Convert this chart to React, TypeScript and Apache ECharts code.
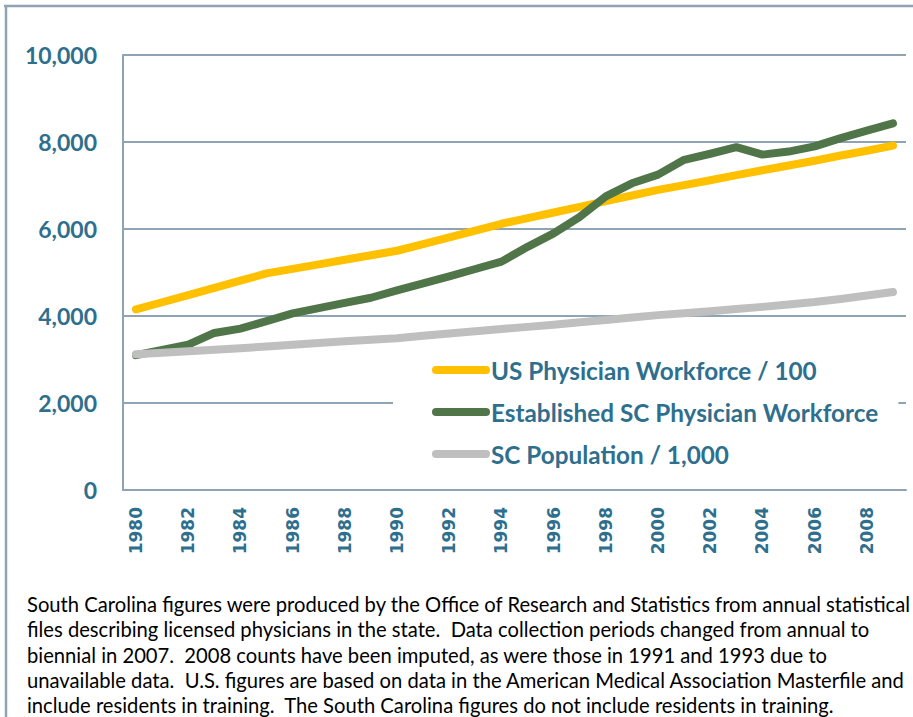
import React, { useEffect, useRef } from "react";
import * as echarts from "echarts";

const years: string[] = [
  "1980", "1981", "1982", "1983", "1984", "1985", "1986", "1987", "1988", "1989",
  "1990", "1991", "1992", "1993", "1994", "1995", "1996", "1997", "1998", "1999",
  "2000", "2001", "2002", "2003", "2004", "2005", "2006", "2007", "2008", "2009",
];

const usPhysicians: number[] = [
  4150, 4316, 4482, 4648, 4814, 4980, 5084, 5188, 5292, 5396,
  5500, 5650, 5810, 5960, 6120, 6250, 6380, 6510, 6640, 6770,
  6900, 7010, 7120, 7240, 7350, 7460, 7570, 7690, 7800, 7917,
];

const scPhysicians: number[] = [
  3100, 3220, 3340, 3610, 3710, 3880, 4060, 4180, 4300, 4420,
  4590, 4750, 4910, 5080, 5250, 5590, 5900, 6280, 6750, 7050,
  7250, 7590, 7730, 7880, 7710, 7780, 7900, 8090, 8260, 8430,
];

const scPopulation: number[] = [
  3120, 3155, 3190, 3225, 3260, 3300, 3340, 3380, 3420, 3455,
  3490, 3545, 3600, 3650, 3700, 3750, 3800, 3855, 3910, 3965,
  4020, 4065, 4110, 4160, 4210, 4265, 4320, 4390, 4470, 4550,
];

const seriesNames: string[] = [
  "US Physician Workforce / 100",
  "Established SC Physician Workforce",
  "SC Population / 1,000",
];

const footnoteLines: string[] = [
  "South Carolina figures were produced by the Office of Research and Statistics from annual statistical",
  "files describing licensed physicians in the state.  Data collection periods changed from annual to",
  "biennial in 2007.  2008 counts have been imputed, as were those in 1991 and 1993 due to",
  "unavailable data.  U.S. figures are based on data in the American Medical Association Masterfile and",
  "include residents in training.  The South Carolina figures do not include residents in training.",
];

const TEAL = "#2F6F8E";
const FRAME = "#8EA4B5";
const CAPSULE = "path://M4,0 L54,0 A4,4 0 0 1 54,8 L4,8 A4,4 0 0 1 4,0 Z";

export default function App() {
  const ref = useRef<HTMLDivElement>(null);

  useEffect(() => {
    if (!ref.current) return;
    const chart = echarts.init(ref.current, undefined, { renderer: "svg" });

    const mkSeries = (name: string, data: number[], color: string) => ({
      name,
      type: "line",
      data,
      showSymbol: false,
      symbol: "none",
      lineStyle: { color, width: 8, cap: "round", join: "round" },
      itemStyle: { color },
      emphasis: { disabled: true },
    });

    chart.setOption({
      animation: false,
      backgroundColor: "#ffffff",
      grid: { left: 123, right: 7, top: 55, bottom: 227, containLabel: false },
      xAxis: {
        type: "category",
        data: years,
        boundaryGap: true,
        axisLine: { show: true, lineStyle: { color: FRAME, width: 2 } },
        axisTick: { show: false },
        axisLabel: {
          interval: 1,
          rotate: 90,
          margin: 17,
          color: TEAL,
          fontFamily: "DejaVu Sans",
          fontWeight: "bold",
          fontSize: 17,
        },
      },
      yAxis: {
        type: "value",
        min: 0,
        max: 10000,
        interval: 2000,
        axisLine: { show: true, lineStyle: { color: FRAME, width: 2 } },
        axisTick: { show: false },
        splitLine: { show: true, lineStyle: { color: FRAME, width: 2 } },
        axisLabel: {
          margin: 26,
          color: TEAL,
          fontFamily: "Lato",
          fontWeight: "bold",
          fontSize: 23,
          formatter: (v: number) => v.toLocaleString("en-US"),
        },
      },
      legend: {
        orient: "vertical",
        left: 393,
        top: 344,
        padding: [12, 20, 12, 39],
        backgroundColor: "#ffffff",
        itemWidth: 58,
        itemHeight: 8,
        itemGap: 14,
        selectedMode: false,
        icon: CAPSULE,
        data: seriesNames,
        textStyle: {
          color: TEAL,
          fontFamily: "Lato",
          fontWeight: "bold",
          fontSize: 24.3,
          lineHeight: 28,
          padding: [0, 0, 0, -4],
        },
      },
      series: [
        mkSeries(seriesNames[0], usPhysicians, "#FFC000"),
        mkSeries(seriesNames[1], scPhysicians, "#4F7548"),
        mkSeries(seriesNames[2], scPopulation, "#BFBFBF"),
      ],
      graphic: [
        {
          type: "line",
          shape: { x1: 4, y1: 6, x2: 913, y2: 6 },
          style: { stroke: FRAME, lineWidth: 2.5 },
          silent: true,
        },
        {
          type: "line",
          shape: { x1: 6, y1: 6, x2: 6, y2: 717 },
          style: { stroke: FRAME, lineWidth: 2.5 },
          silent: true,
        },
        ...footnoteLines.map((t, i) => ({
          type: "text",
          left: 27,
          top: 594 + i * 25.3,
          silent: true,
          style: {
            text: t,
            fill: "#000000",
            fontFamily: "Lato",
            fontSize: 20.2,
          },
        })),
      ],
    });

    return () => chart.dispose();
  }, []);

  return (
    <div
      ref={ref}
      style={{ position: "fixed", left: 0, top: 0, width: 913, height: 717 }}
    />
  );
}
